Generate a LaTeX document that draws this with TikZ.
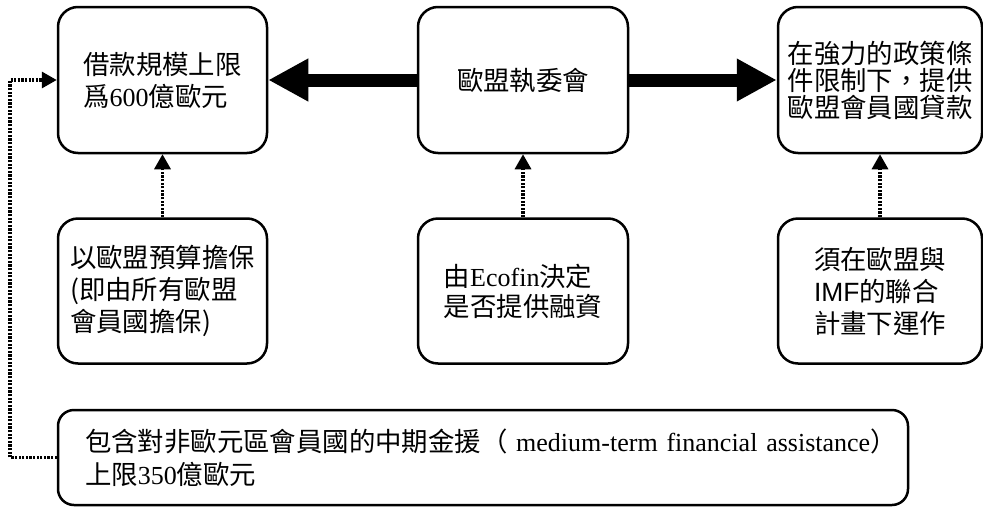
\documentclass[tikz,border=0pt]{standalone}
\usepackage{fontspec}
\setmainfont{Liberation Serif}
\newfontfamily\cjk{Noto Sans CJK TC}
\newfontfamily\lsans{Liberation Sans}
\usetikzlibrary{arrows.meta}
\newcommand\lat[1]{{\rmfamily\fontsize{26}{32}\selectfont #1}}
\begin{document}
\begin{tikzpicture}[x=1pt,y=-1pt,
  box/.style={draw, line width=2.5pt, rounded corners=20pt, inner sep=0pt, align=left,
    font={\cjk\fontsize{26.4}{32}\selectfont}},
  thickarrow/.style={line width=13pt, -{Triangle[length=40pt,width=40pt]}},
  dotarrow/.style={line width=3.2pt, dash pattern=on 2.2pt off 1.4pt, -{Triangle[length=15pt,width=16pt]}},
]
\useasboundingbox (0,0) rectangle (983,509);

\node[box, minimum width=209pt, minimum height=146pt] (b1) at (162.5,80) {借款規模上限\\爲\lat{600}億歐元};
\node[box, minimum width=210pt, minimum height=146pt] (b2) at (523,80) {歐盟執委會};
\node[box, minimum width=204pt, minimum height=146pt, font={\cjk\fontsize{26.4}{27}\selectfont}] (b3) at (880,80) {在強力的政策條\\件限制下，提供\\歐盟會員國貸款};

\node[box, minimum width=209pt, minimum height=145pt] (b4) at (162.5,291) {以歐盟預算擔保\\(即由所有歐盟\\會員國擔保)};
\node[box, minimum width=210pt, minimum height=145pt, font={\cjk\fontsize{26.4}{30}\selectfont}] (b5) at (523,291) {由\lat{Ecofin}決定\\是否提供融資};
\node[box, minimum width=204pt, minimum height=145pt] (b6) at (880,291) {須在歐盟與\\{\lsans IMF}的聯合\\計畫下運作};

\node[box, rounded corners=16pt, minimum height=95pt, text width=796pt, inner xsep=27pt,
  font={\cjk\fontsize{26.4}{33}\selectfont}] (bot) at (483,457.5)
  {\mbox{包含對非歐元區會員國的中期金援（\lat{\ medium-term financial assistance}）}\\上限\lat{350}億歐元};

\draw[thickarrow] (b2.west) -- (b1.east);
\draw[thickarrow] (b2.east) -- (b3.west);

\draw[dotarrow] (b4.north) -- (b1.south);
\draw[dotarrow] (b5.north) -- (b2.south);
\draw[dotarrow] (b6.north) -- (b3.south);

\coordinate (corner) at (10,457.5);
\draw[dotarrow] (bot.west) -- (corner) |- (b1.west);
\end{tikzpicture}
\end{document}
